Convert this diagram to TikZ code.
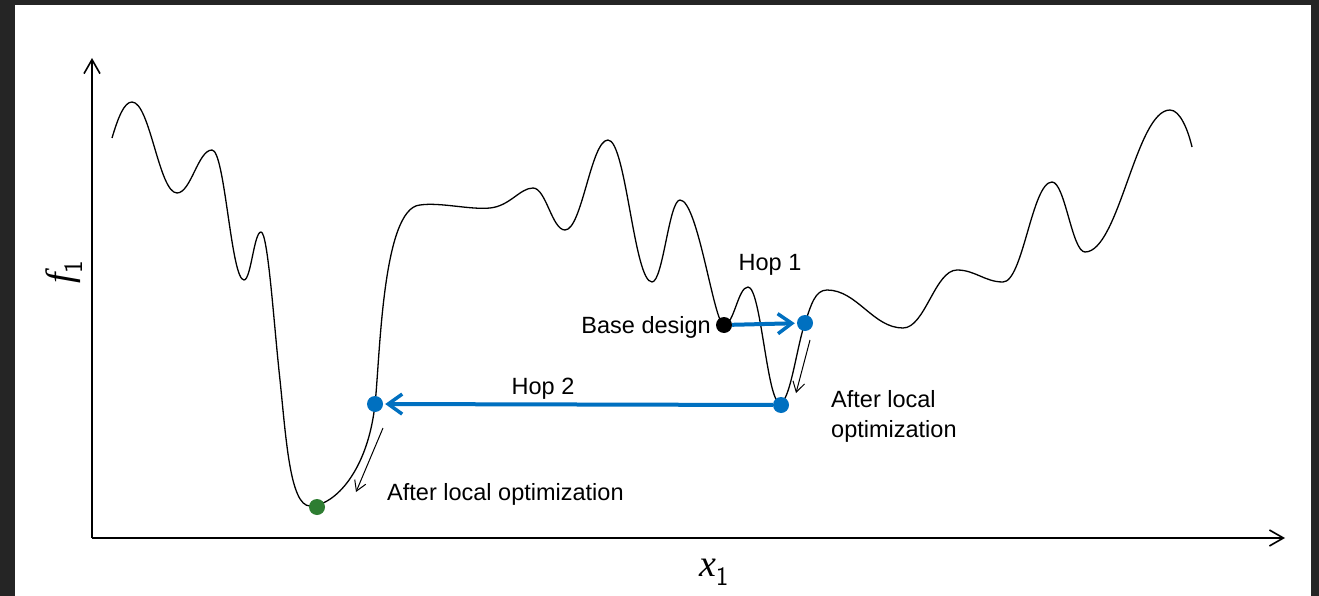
\documentclass[tikz,border=0pt]{standalone}
\usepackage{fontspec}
\setmainfont{Liberation Sans}
\newfontfamily\timesit{Liberation Serif}[UprightFont=*, ItalicFont=* Italic]
\usetikzlibrary{arrows.meta}
\definecolor{hopblue}{RGB}{0,112,192}
\definecolor{bestgreen}{RGB}{46,125,50}
\definecolor{frame}{RGB}{37,37,37}
\tikzset{
	dot/.style={circle, inner sep=0pt, minimum size=16pt},
	axis/.style={line width=1.6pt, -{Straight Barb[length=14pt, width=16pt]}},
	hop/.style={line width=4pt, color=hopblue, -{Straight Barb[length=14pt, width=20pt, line width=3.5pt]}, shorten >=2pt},
	slide/.style={line width=1pt, -{Straight Barb[length=10pt, width=12pt]}},
	lbl/.style={font=\fontsize{23.5}{27}\selectfont, inner sep=0pt, align=left}
}

\begin{document}
\begin{tikzpicture}[x=1pt, y=-1pt]
		%%%%% START %%%%%
		\useasboundingbox (0, 0) rectangle (1319, 596);
		\fill[white] (0, 0) rectangle (1319, 596);
		\fill[frame] (0, 0) rectangle (1319, 5);
		\fill[frame] (0, 0) rectangle (15, 596);
		\fill[frame] (1311, 0) rectangle (1319, 596);
		
		% axes
		\draw[axis] (92, 538) -- (92, 58);
		\draw[axis] (92, 538) -- (1285, 538);
		\node[font=\fontsize{38}{40}\selectfont, rotate=90] (ylab) at (64, 272) {\timesit\itshape f\textsubscript{\upshape\sffamily 1}};
		\node[font=\fontsize{38}{40}\selectfont] (xlab) at (714, 572) {\timesit\itshape x\textsubscript{\upshape\sffamily 1}};
		
		% landscape
		\draw[line width=1.3pt, line join=round]
			(112,138) .. controls (118,118) and (124,102) .. (132,102)
			.. controls (150,102) and (159,193) .. (177,193)
			.. controls (191,193) and (198,150) .. (212,150)
			.. controls (225,150) and (231,280) .. (244,280)
			.. controls (251,280) and (254,232) .. (261,232)
			.. controls (268,232) and (274,326) .. (280,380)
			.. controls (286,438) and (290,506) .. (310,506)
			.. controls (335,506) and (368,470) .. (375,404)
			.. controls (380,360) and (382,208) .. (420,205)
			.. controls (440,202) and (470,210) .. (490,208)
			.. controls (510,206) and (520,188) .. (533,188)
			.. controls (546,188) and (552,230) .. (565,230)
			.. controls (582,230) and (591,140) .. (608,140)
			.. controls (626,140) and (634,282) .. (652,282)
			.. controls (663,282) and (669,200) .. (680,200)
			.. controls (698,200) and (714,325) .. (724,325)
			.. controls (734,325) and (738,287) .. (748,287)
			.. controls (761,287) and (767,403) .. (780,403)
			.. controls (790,403) and (797,345) .. (805,323)
			.. controls (811,305) and (815,290) .. (827,290)
			.. controls (857,290) and (873,328) .. (903,328)
			.. controls (925,328) and (935,270) .. (957,270)
			.. controls (975,270) and (985,282) .. (1003,282)
			.. controls (1023,282) and (1032,182) .. (1052,182)
			.. controls (1065,182) and (1072,252) .. (1085,252)
			.. controls (1119,252) and (1136,110) .. (1170,110)
			.. controls (1180,110) and (1188,130) .. (1192,147);
		
		% designs
		\node[dot, fill=black] (base) at (724, 325) {};
		\node[dot, fill=hopblue] (hopa) at (805, 323) {};
		\node[dot, fill=hopblue] (opta) at (781, 405) {};
		\node[dot, fill=hopblue] (hopb) at (375, 404) {};
		\node[dot, fill=bestgreen] (optb) at (317, 507) {};
		
		\draw[hop] (base) -- (hopa);
		\draw[hop] (opta) -- (hopb);
		
		\coordinate (sa) at (810, 340);
		\coordinate (ea) at (796, 393);
		\coordinate (sb) at (383, 428);
		\coordinate (eb) at (356, 492);
		\draw[slide] (sa) -- (ea);
		\draw[slide] (sb) -- (eb);
		
		\node[lbl, anchor=east] (basetxt) at (711, 327) {Base design};
		\node[lbl] (hoponetxt) at (770, 265) {Hop 1};
		\node[lbl] (hoptwotxt) at (543, 389) {Hop 2};
		\node[lbl, anchor=north west] (optatxt) at (831, 390) {After local\\[3pt]optimization};
		\node[lbl, anchor=west] (optbtxt) at (387, 494) {After local optimization};
		%%%%% END %%%%%
	\end{tikzpicture}
\end{document}
